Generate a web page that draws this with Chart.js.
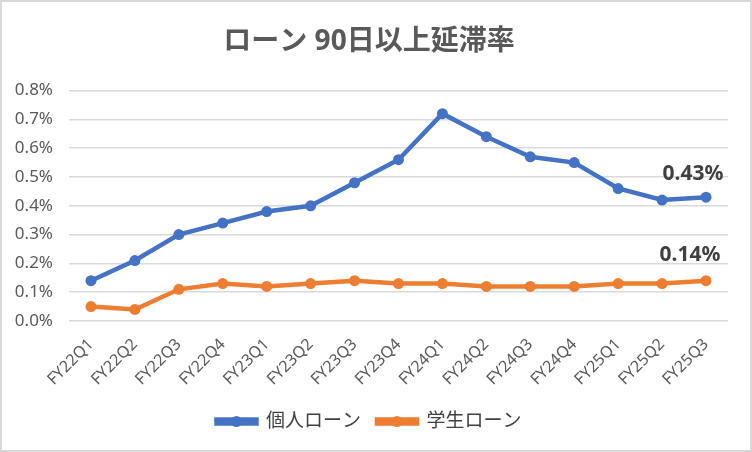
<!DOCTYPE html>
<html>
<head>
<meta charset="utf-8">
<script src="https://cdn.jsdelivr.net/npm/chart.js@4.4.1/dist/chart.umd.min.js"></script>
<style>
    html, body { margin: 0; padding: 0; background: #fff; }
    #wrap {
        width: 748px;
        height: 448px;
        border: 2px solid #d9d9d9;
        background: #fff;
    }
</style>
</head>
<body>
<div id="wrap"><canvas id="delinqChart" width="748" height="448"></canvas></div>
<script>
const FONT = "'Noto Sans', 'Noto Sans CJK JP', sans-serif";

// Data (percent)
const quarters = ['FY22Q1', 'FY22Q2', 'FY22Q3', 'FY22Q4', 'FY23Q1', 'FY23Q2', 'FY23Q3', 'FY23Q4',
    'FY24Q1', 'FY24Q2', 'FY24Q3', 'FY24Q4', 'FY25Q1', 'FY25Q2', 'FY25Q3'];
const personalLoan = [0.14, 0.21, 0.30, 0.34, 0.38, 0.40, 0.48, 0.56, 0.72, 0.64, 0.57, 0.55, 0.46, 0.42, 0.43];
const studentLoan = [0.05, 0.04, 0.11, 0.13, 0.12, 0.13, 0.14, 0.13, 0.13, 0.12, 0.12, 0.12, 0.13, 0.13, 0.14];
const yTicks = [0, 0.1, 0.2, 0.3, 0.4, 0.5, 0.6, 0.7, 0.8];

const BLUE = '#4472C4';
const ORANGE = '#ED7D31';

Chart.defaults.font.family = FONT;
Chart.defaults.color = '#595959';

// label on the last point of each line
const lastLabelPlugin = {
    id: 'lastLabel',
    afterDatasetsDraw(chart) {
        const ctx = chart.ctx;
        ctx.save();
        ctx.font = `bold 21px ${FONT}`;
        ctx.fillStyle = '#404040';
        ctx.textAlign = 'center';
        ctx.textBaseline = 'middle';
        chart.data.datasets.forEach((ds, i) => {
            const meta = chart.getDatasetMeta(i);
            const last = meta.data[meta.data.length - 1];
            const v = ds.data[ds.data.length - 1];
            const off = ds.labelOffset;
            ctx.fillText(v.toFixed(2) + '%', last.x + off.x, last.y + off.y);
        });
        ctx.restore();
    }
};

// marker dot in the legend line
const legendDotPlugin = {
    id: 'legendDot',
    afterDraw(chart) {
        const legend = chart.legend;
        if (!legend || !legend.legendHitBoxes) return;
        const ctx = chart.ctx;
        const boxW = legend.options.labels.boxWidth;
        ctx.save();
        legend.legendHitBoxes.forEach((box, i) => {
            const ds = chart.data.datasets[i];
            ctx.beginPath();
            ctx.fillStyle = ds.borderColor;
            ctx.arc(box.left + boxW / 2, box.top + box.height / 2, 5.5, 0, Math.PI * 2);
            ctx.fill();
        });
        ctx.restore();
    }
};

const ctx = document.getElementById('delinqChart').getContext('2d');
const chart = new Chart(ctx, {
    type: 'line',
    data: {
        labels: quarters,
        datasets: [{
            label: '個人ローン',
            data: personalLoan,
            borderColor: BLUE,
            backgroundColor: BLUE,
            borderWidth: 4.5,
            pointRadius: 5.5,
            pointBackgroundColor: BLUE,
            pointBorderWidth: 0,
            tension: 0,
            labelOffset: { x: -13, y: -23 }
        }, {
            label: '学生ローン',
            data: studentLoan,
            borderColor: ORANGE,
            backgroundColor: ORANGE,
            borderWidth: 4.5,
            pointRadius: 5.5,
            pointBackgroundColor: ORANGE,
            pointBorderWidth: 0,
            tension: 0,
            labelOffset: { x: -16, y: -26 }
        }]
    },
    options: {
        responsive: false,
        animation: false,
        layout: { padding: { left: 8, right: 22, top: 10, bottom: 9 } },
        plugins: {
            title: {
                display: true,
                text: 'ローン 90日以上延滞率',
                color: '#595959',
                font: { family: FONT, size: 28, weight: 'bold' },
                padding: { top: 13, bottom: 32 }
            },
            legend: {
                position: 'bottom',
                labels: {
                    color: '#404040',
                    font: { family: FONT, size: 19 },
                    boxWidth: 40,
                    boxHeight: 4,
                    padding: 16
                }
            },
            tooltip: { enabled: false }
        },
        scales: {
            x: {
                offset: true,
                grid: { display: false },
                border: { display: false },
                ticks: {
                    color: '#595959',
                    font: { family: FONT, size: 16 },
                    minRotation: 45,
                    maxRotation: 45,
                    padding: 6
                },
                afterFit(scale) { scale.height = 75; }
            },
            y: {
                min: 0,
                max: 0.8,
                afterBuildTicks(scale) { scale.ticks = yTicks.map(v => ({ value: v })); },
                grid: { color: '#d9d9d9', lineWidth: 1.5, drawTicks: false },
                border: { display: false },
                ticks: {
                    color: '#595959',
                    font: { family: FONT, size: 17 },
                    padding: 16,
                    callback: v => v.toFixed(1) + '%'
                },
                afterFit(scale) { scale.width = 59; }
            }
        }
    },
    plugins: [lastLabelPlugin, legendDotPlugin]
});
</script>
</body>
</html>
